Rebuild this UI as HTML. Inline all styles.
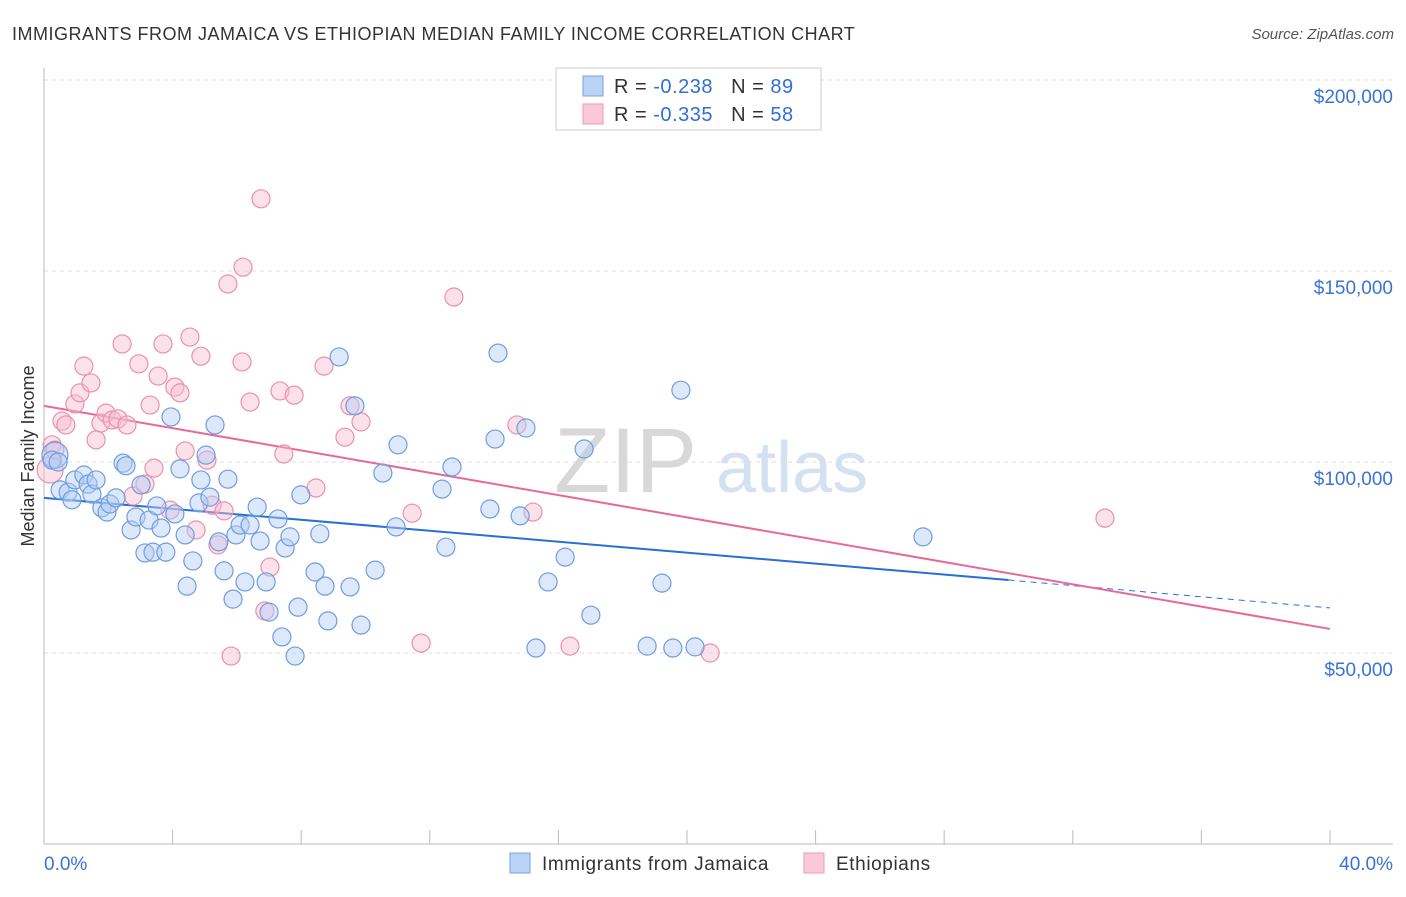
<!DOCTYPE html>
<html><head><meta charset="utf-8">
<style>
body{margin:0;background:#fff;font-family:"Liberation Sans",sans-serif;}
svg text{font-family:"Liberation Sans",sans-serif;}
</style></head>
<body>
<svg id="chart" width="1406" height="892">
<text x="12" y="40" font-size="18" fill="#333" letter-spacing="0.5">IMMIGRANTS FROM JAMAICA VS ETHIOPIAN MEDIAN FAMILY INCOME CORRELATION CHART</text>
<text x="1394" y="39" font-size="15" fill="#555" font-style="italic" text-anchor="end">Source: ZipAtlas.com</text>
<text x="34" y="456" font-size="18" fill="#333" text-anchor="middle" transform="rotate(-90 34 456)">Median Family Income</text>
<g>
<text x="554" y="492" font-size="92" fill="#d8d8d8" font-family="Liberation Serif">ZIP</text>
<text x="716" y="492" font-size="72" fill="#d3e1f2">atlas</text>
</g>
<g id="grid"></g>
<g id="axes"></g>
<g id="lines"></g>
<g id="pts"></g>
<g>
<rect x="556" y="68" width="265" height="62" fill="#fff" stroke="#ccc"/>
<rect x="583" y="76" width="20" height="20" fill="#b9d2f5" stroke="#7aa3e0"/>
<rect x="583" y="104" width="20" height="20" fill="#f9c9d8" stroke="#ee9ab6"/>
<text x="614" y="93" font-size="20" fill="#333" letter-spacing="0.5">R = <tspan fill="#2f6fd6">-0.238</tspan>&#160;&#160;&#160;N = <tspan fill="#2f6fd6">89</tspan></text>
<text x="614" y="121" font-size="20" fill="#333" letter-spacing="0.5">R = <tspan fill="#2f6fd6">-0.335</tspan>&#160;&#160;&#160;N = <tspan fill="#2f6fd6">58</tspan></text>
</g>
<g>
<rect x="510" y="853" width="20" height="20" fill="#b9d2f5" stroke="#7aa3e0"/>
<text x="542" y="870" font-size="19" fill="#333" letter-spacing="0.6">Immigrants from Jamaica</text>
<rect x="804" y="853" width="20" height="20" fill="#f9c9d8" stroke="#ee9ab6"/>
<text x="836" y="870" font-size="19" fill="#333" letter-spacing="0.6">Ethiopians</text>
</g>
</svg>
<script>
const yTicks=[50000,100000,150000,200000];
const yTickLabels=["$50,000","$100,000","$150,000","$200,000"];
const xTickLabels=["0.0%","40.0%"];
const blueX=[0.34,0.25,0.44,0.50,0.75,0.87,0.96,1.24,1.37,1.49,1.62,1.80,1.96,2.05,2.24,2.46,2.55,2.71,2.86,3.02,3.14,3.27,3.39,3.51,3.64,3.79,3.95,4.07,4.23,4.39,4.45,4.63,4.82,4.88,5.04,5.16,5.32,5.44,5.60,5.72,5.88,5.97,6.10,6.25,6.41,6.63,6.72,6.91,7.00,7.28,7.40,7.50,7.65,7.81,7.90,7.99,8.43,8.58,8.74,8.83,9.18,9.52,9.67,9.86,10.30,10.54,10.95,11.01,12.38,12.50,12.69,13.87,14.03,14.12,14.81,14.99,15.30,15.68,16.21,16.80,17.01,18.76,19.22,19.56,19.81,20.25,27.34];
const blueY=[101800,100500,100000,92700,92100,90100,95300,96600,94200,91600,95300,88000,86900,89000,90600,99700,99000,82200,85600,94000,76200,84800,76400,88500,82700,76400,111800,86400,98200,80900,67500,74100,89300,95300,101800,90800,109700,79100,71500,95500,64100,80900,83500,68600,83500,88200,79300,68600,60700,85100,54200,77500,80400,49200,62000,91400,71200,81200,67500,58400,127500,67300,114700,57300,71700,97100,83000,104500,92900,77700,98700,87700,106000,128500,85900,108900,51300,68600,75100,103400,59900,51800,68300,51300,118800,51600,80400];
const pinkX=[0.19,0.25,0.34,0.56,0.68,0.96,1.12,1.24,1.46,1.62,1.77,1.93,2.12,2.30,2.43,2.58,2.77,2.95,3.14,3.30,3.42,3.55,3.70,3.92,4.07,4.23,4.39,4.54,4.73,4.88,5.07,5.23,5.41,5.60,5.72,5.82,6.16,6.19,6.41,6.75,6.87,7.03,7.34,7.46,7.78,8.46,8.71,9.36,9.52,9.86,11.45,11.73,12.75,14.71,15.21,16.36,20.72,33.00];
const pinkY=[97900,104500,103100,110700,109700,115200,118100,125100,120700,105800,110200,112800,111000,111300,130900,109700,91100,125700,94200,114900,98400,122500,130900,87400,119600,118100,102900,132700,82200,127700,100500,88700,78300,87200,146600,49200,126200,151000,115700,168900,61000,72500,118600,102100,117500,93200,125100,106500,114700,110500,86600,52600,143200,109700,86900,51800,50000,85300];
const blueTrend=[90600,69100,61800];
const blueTrendX=[0,30,40];
const pinkTrend=[114700,56300];
const pinkTrendX=[0,40];
const NS="http://www.w3.org/2000/svg";
const X0=44,X1=1330,Yb=844;
function xs(v){return X0+(v/40)*(X1-X0);}
function ys(v){return 462-(v-100000)*191/50000;}
function mk(tag,attrs,parent){const e=document.createElementNS(NS,tag);for(const k in attrs)e.setAttribute(k,attrs[k]);document.getElementById(parent).appendChild(e);return e;}
yTicks.forEach((t,i)=>{
 const l=mk('line',{x1:X0,x2:1393,y1:ys(t),y2:ys(t),stroke:'#ddd','stroke-dasharray':'4,4'},'grid');
 
 
 const tx=mk('text',{x:1393,y:ys(t)+23,'font-size':19,fill:'#3b73d4','text-anchor':'end'},'axes');
 tx.textContent=yTickLabels[i];
 
 
});
const al=mk('line',{x1:X0,x2:X0,y1:68,y2:Yb,stroke:'#bbb'},'axes');


const bl=mk('line',{x1:X0,x2:1393,y1:Yb,y2:Yb,stroke:'#bbb'},'axes');


for(let i=0;i<=10;i++){
 const t=mk('line',{x1:xs(i*4),x2:xs(i*4),y1:830,y2:Yb,stroke:'#bbb'},'axes');
 
 
}
[[0,'start',X0],[40,'end',1393]].forEach((d,i)=>{
 const t=mk('text',{x:d[2],y:870,'font-size':19,fill:'#3b73d4','text-anchor':d[1]},'axes');
 t.textContent=xTickLabels[i];
 
 
});
function pts(xa,ya,fill,stroke,name){
 xa.forEach((x,i)=>{
  const c=mk('circle',{cx:xs(x),cy:ys(ya[i]),r:i===0?13:9,fill:fill,'fill-opacity':0.45,stroke:stroke,'stroke-width':1.2},'pts');
  
  
 });
}
pts(pinkX,pinkY,'#f7bcd0','#ec8fb0','point-ethiopians');
pts(blueX,blueY,'#b3cdf3','#6e9de0','point-jamaica');
const b1=mk('line',{x1:xs(blueTrendX[0]),y1:ys(blueTrend[0]),x2:xs(blueTrendX[1]),y2:ys(blueTrend[1]),stroke:'#2a6fd8','stroke-width':2},'lines');


const b2=mk('line',{x1:xs(blueTrendX[1]),y1:ys(blueTrend[1]),x2:xs(blueTrendX[2]),y2:ys(blueTrend[2]),stroke:'#2a6fd8','stroke-width':1,'stroke-dasharray':'6,5'},'lines');


const p1=mk('line',{x1:xs(pinkTrendX[0]),y1:ys(pinkTrend[0]),x2:xs(pinkTrendX[1]),y2:ys(pinkTrend[1]),stroke:'#e8689a','stroke-width':2},'lines');


</script>
</body></html>
